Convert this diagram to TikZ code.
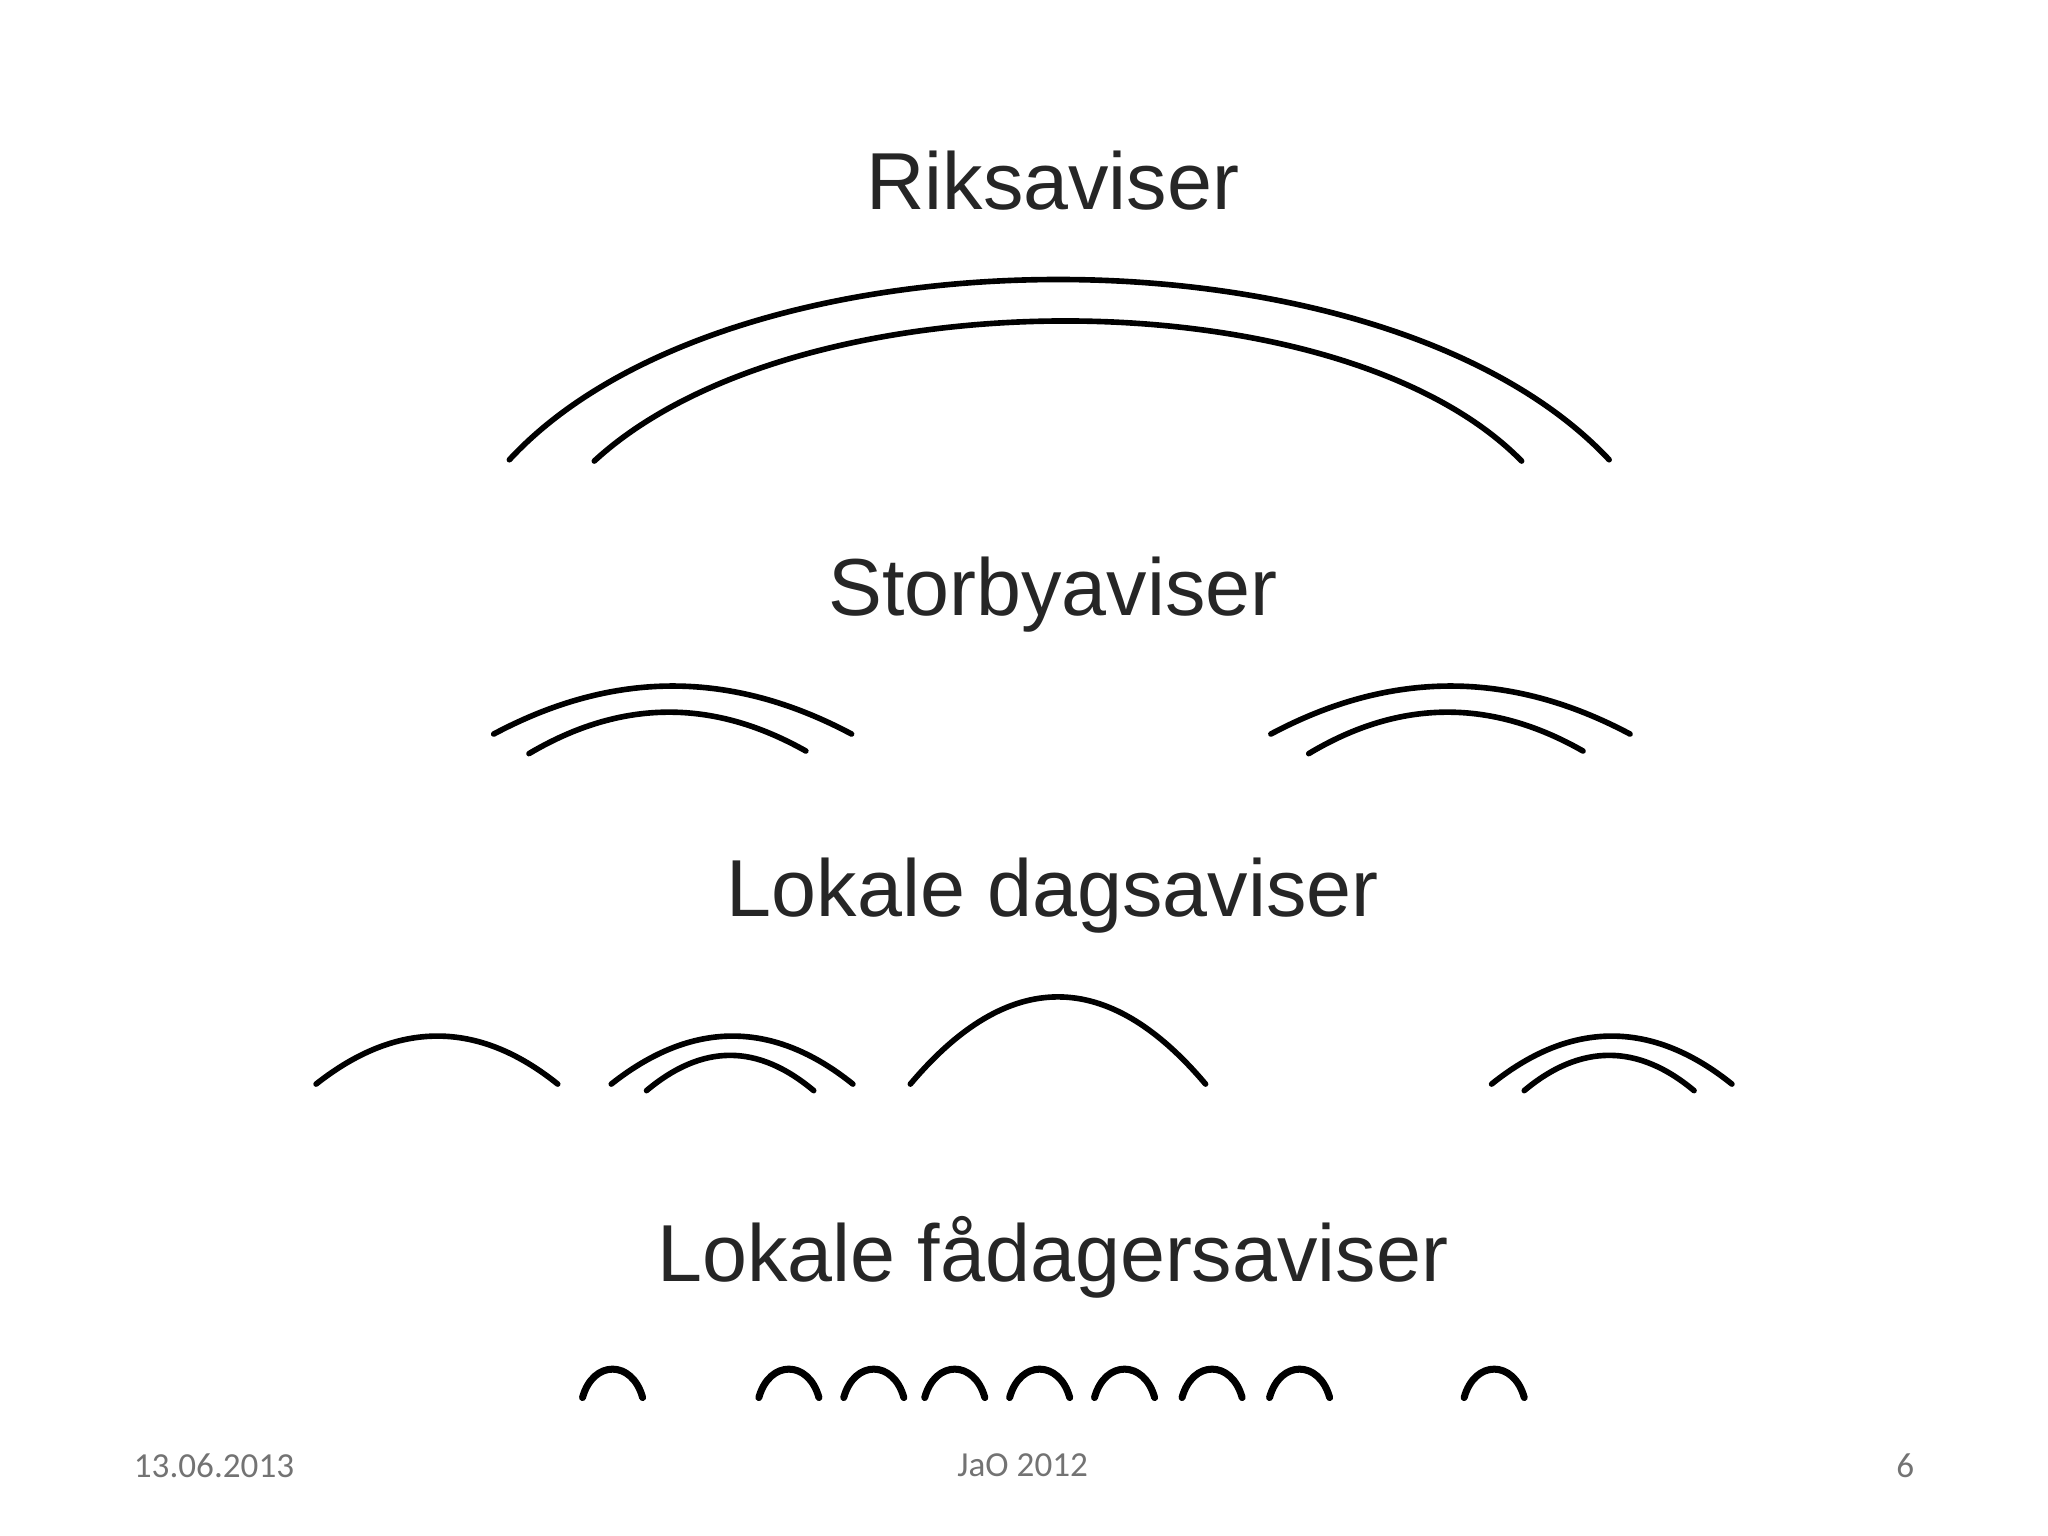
\documentclass[tikz,border=0pt]{standalone}
\usepackage{fontspec}
\setmainfont{Liberation Sans}
\newfontfamily\foot{Carlito}
\begin{document}
\begin{tikzpicture}[x=0.01306cm,y=-0.01306cm,
  arc/.style={line width=1.6pt,line cap=round},
  sarc/.style={line width=2pt,line cap=round},
  title/.style={font=\fontsize{23}{27}\selectfont,text=black!85},
  ft/.style={font=\foot\fontsize{10}{12}\selectfont,text=black!55}]
\useasboundingbox (0,0) rectangle (1568,1176);
\node[title] (t1) at (806,138) {Riksaviser};
\node[title] (t2) at (806,455) {Storbyaviser};
\node[title] (t3) at (806,686) {Lokale dagsaviser};
\node[title] (t4) at (806,963) {Lokale fådagersaviser};
% Riksaviser
\draw[arc] (390,352) .. controls (560,168) and (1060,168) .. (1232,352);
\draw[arc] (455,353) .. controls (610,210) and (1025,210) .. (1165,353);
% Storby
\draw[arc] (378,562) .. controls (470,513) and (560,513) .. (652,562);
\draw[arc] (405,577) .. controls (476,535) and (546,535) .. (617,575);
\draw[arc] (973,562) .. controls (1065,513) and (1156,513) .. (1248,562);
\draw[arc] (1002,577) .. controls (1072,535) and (1142,535) .. (1212,575);
% Lokale dag
\draw[arc] (242,830) .. controls (304,781) and (366,781) .. (427,830);
\draw[arc] (468,830) .. controls (530,781) and (592,781) .. (653,830);
\draw[arc] (495,835) .. controls (538,799) and (580,799) .. (623,835);
\draw[arc] (697,830) .. controls (772,741) and (848,741) .. (923,830);
\draw[arc] (1142,830) .. controls (1203,781) and (1265,781) .. (1326,830);
\draw[arc] (1167,835) .. controls (1210,799) and (1254,799) .. (1297,835);
% small
\foreach \c in {469,604,669,731,796,861,928,995,1144}
  \draw[sarc] (\c-23,1070) .. controls (\c-15,1041) and (\c+15,1041) .. (\c+23,1070);
\node[ft,anchor=west] (f1) at (93,1122) {13.06.2013};
\node[ft] (f2) at (783,1122) {JaO 2012};
\node[ft,anchor=east] (f3) at (1475,1122) {6};
\end{tikzpicture}
\end{document}
